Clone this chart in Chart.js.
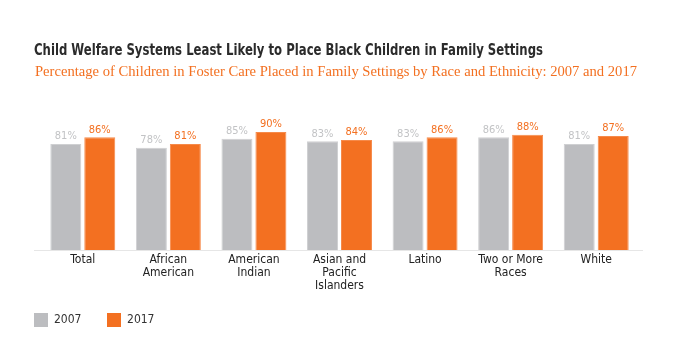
<!DOCTYPE html>
<html>
<head>
<meta charset="utf-8">
<script src="https://cdn.jsdelivr.net/npm/chart.js@4/dist/chart.umd.min.js"></script>
<style>
  html, body { margin: 0; padding: 0; background: #fff; }
  #wrap { position: relative; width: 678px; height: 355px; overflow: hidden; }
  #c { position: absolute; left: 0; top: 0; }
  .t { position: absolute; white-space: nowrap; transform-origin: 0 0; display: inline-block; }
  #title { left: 34px; top: 42px; font: bold 16px/16px 'Liberation Sans Narrow','DejaVu Sans Condensed','Roboto Condensed','Liberation Sans',sans-serif; color: #2b2b2b; }
  #subtitle { left: 35px; top: 64px; font: 15px/15px 'Liberation Serif','DejaVu Serif',serif; color: #f37021; }
</style>
</head>
<body>
<div id="wrap">
  <canvas id="c" width="678" height="355"></canvas>
  <span class="t" id="title">Child Welfare Systems Least Likely to Place Black Children in Family Settings</span>
  <span class="t" id="subtitle">Percentage of Children in Foster Care Placed in Family Settings by Race and Ethnicity: 2007 and 2017</span>
</div>
<script>
// ---- data ----
const categories = [
  ['Total'],
  ['African', 'American'],
  ['American', 'Indian'],
  ['Asian and', 'Pacific', 'Islanders'],
  ['Latino'],
  ['Two or More', 'Races'],
  ['White']
];
const seriesNames = ['2007', '2017'];
const values2007 = [81, 78, 85, 83, 83, 86, 81];
const values2017 = [86, 81, 90, 84, 86, 88, 87];

// ---- styles ----
const GRAY = '#bcbdc0';
const ORANGE = '#f37021';
const CONDENSED = "'Liberation Sans Narrow','DejaVu Sans Condensed','Roboto Condensed',Roboto,sans-serif";

function fitWidth(id, w) {
  const el = document.getElementById(id);
  el.style.transform = 'none';
  const cw = el.getBoundingClientRect().width;
  el.style.transform = 'scaleX(' + (w / cw) + ')';
}

const valueLabels = {
  id: 'valueLabels',
  afterDatasetsDraw(chart) {
    const ctx = chart.ctx;
    ctx.save();
    ctx.font = '11px ' + CONDENSED;
    ctx.textAlign = 'center';
    ctx.textBaseline = 'bottom';
    chart.data.datasets.forEach((ds, di) => {
      const meta = chart.getDatasetMeta(di);
      ctx.fillStyle = di === 0 ? '#c2c3c5' : ORANGE;
      meta.data.forEach((bar, i) => {
        ctx.fillText(ds.data[i] + '%', bar.x, bar.y - 2);
      });
    });
    ctx.restore();
  }
};

const baseline = {
  id: 'baseline',
  beforeDatasetsDraw(chart) {
    const {ctx, chartArea} = chart;
    ctx.save();
    ctx.strokeStyle = '#e6e6e6';
    ctx.lineWidth = 1;
    ctx.beginPath();
    ctx.moveTo(chartArea.left - 6, chartArea.bottom + 0.5);
    ctx.lineTo(chartArea.right + 4, chartArea.bottom + 0.5);
    ctx.stroke();
    ctx.restore();
  }
};

new Chart(document.getElementById('c'), {
  type: 'bar',
  data: {
    labels: categories,
    datasets: [
      { label: seriesNames[0], data: values2007, backgroundColor: GRAY, borderColor: '#cfd0d2', borderWidth: 1 },
      { label: seriesNames[1], data: values2017, backgroundColor: ORANGE, borderColor: '#f68a4a', borderWidth: 1 }
    ]
  },
  options: {
    responsive: false,
    animation: false,
    devicePixelRatio: 1,
    layout: { padding: { top: 119, left: 16, right: 39, bottom: 18 } },
    datasets: { bar: { categoryPercentage: 0.794, barPercentage: 0.912 } },
    scales: {
      x: {
        grid: { display: false, drawTicks: false },
        border: { display: false },
        ticks: { color: '#222', padding: 3, font: { family: CONDENSED, size: 12, lineHeight: 1.1 }, maxRotation: 0, autoSkip: false },
        afterFit(axis) { axis.height = 45; }
      },
      y: {
        min: 0, max: 100,
        grid: { display: false, drawTicks: false },
        border: { display: false },
        ticks: { display: false },
        afterFit(axis) { axis.width = 24; }
      }
    },
    plugins: {
      legend: {
        position: 'bottom',
        align: 'start',
        labels: {
          boxWidth: 14, boxHeight: 14, padding: 18,
          color: '#333',
          font: { family: CONDENSED, size: 12 },
          generateLabels(chart) {
            return Chart.defaults.plugins.legend.labels.generateLabels(chart)
              .map(item => Object.assign(item, { text: item.text + '\u2002\u2009', lineWidth: 0 }));
          }
        }
      },
      title: { display: false },
      tooltip: { enabled: false }
    }
  },
  plugins: [baseline, valueLabels]
});

function fitTitles() {
  fitWidth('title', 509);
  fitWidth('subtitle', 602);
}
fitTitles();
if (document.fonts && document.fonts.ready) document.fonts.ready.then(fitTitles);
</script>
</body>
</html>
